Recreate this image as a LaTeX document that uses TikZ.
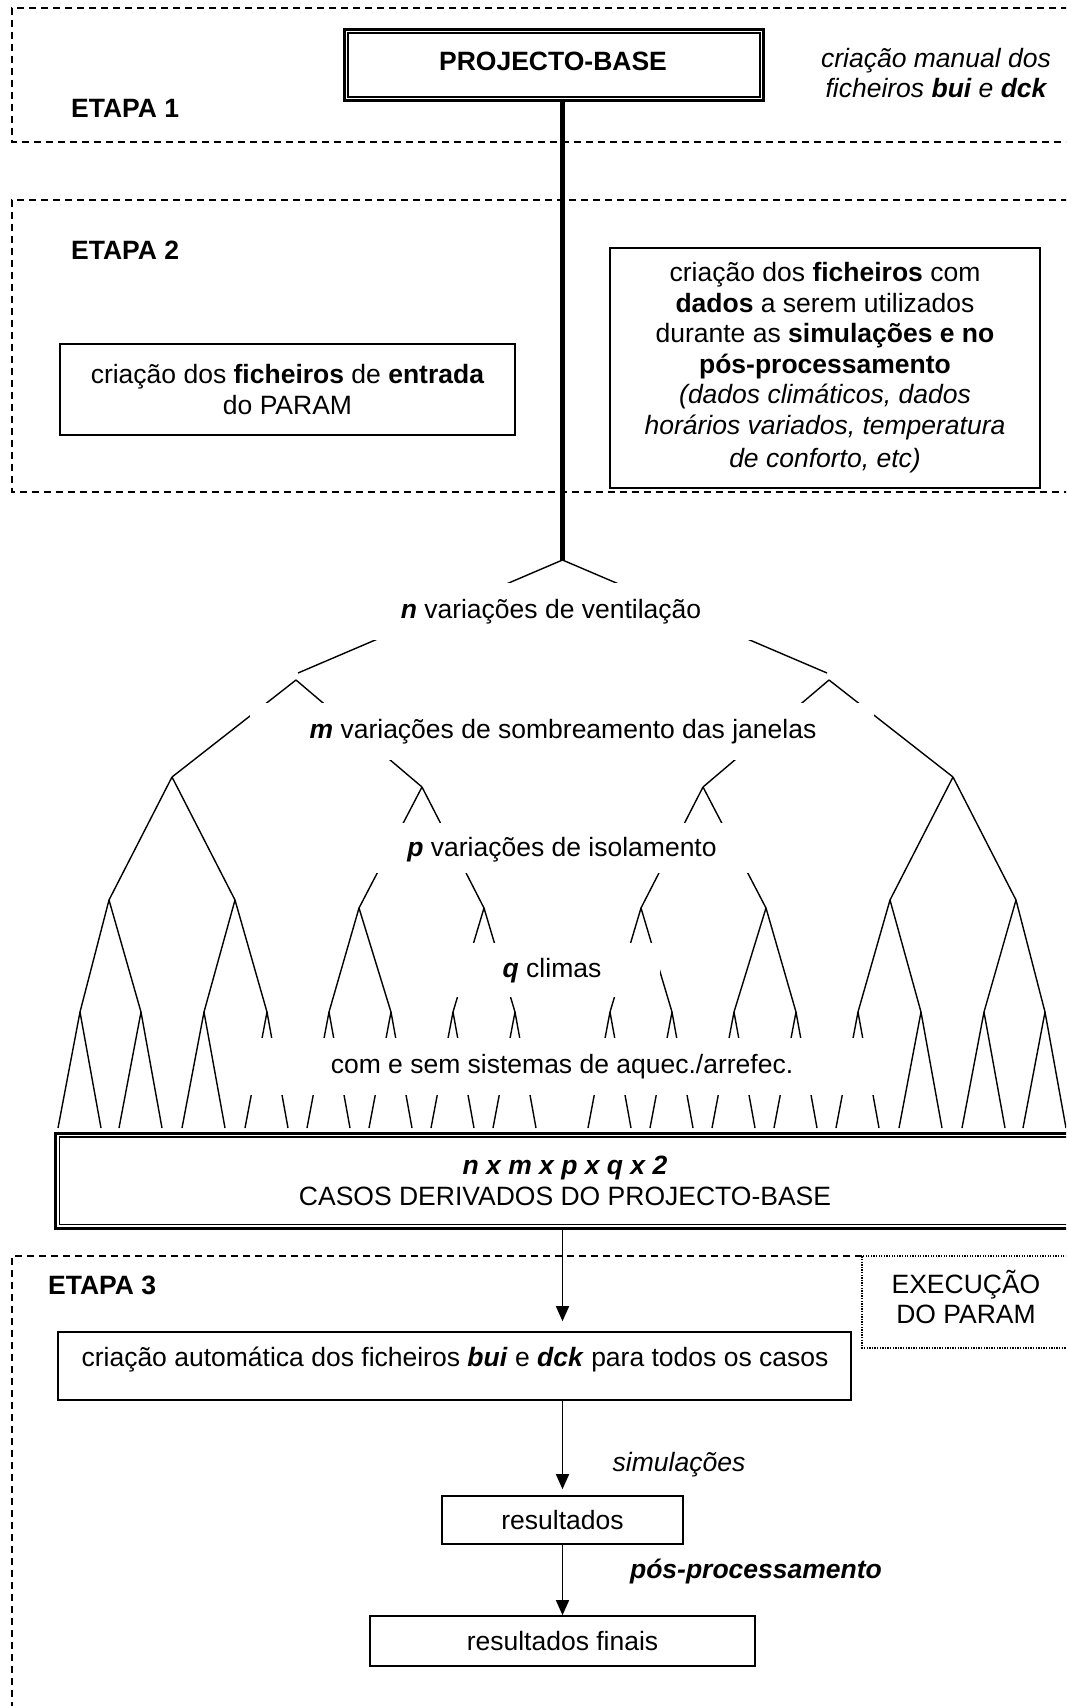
\documentclass[tikz,border=0pt]{standalone}
\usepackage{fontspec}
\setmainfont{Liberation Sans}
\usetikzlibrary{arrows.meta}
\begin{document}
\begin{tikzpicture}[x=1pt,y=-1pt,
  font=\fontsize{26.5}{30.5}\selectfont,
  treeline/.style={line width=1.4pt},
  stageframe/.style={line width=1.3pt, dash pattern=on 7pt off 5pt},
  dotframe/.style={line width=1.3pt, dash pattern=on 1.3pt off 1.3pt},
  plainbox/.style={draw, line width=1.6pt, inner sep=0pt, align=center},
  outerbox/.style={draw, line width=3.2pt, inner sep=0pt},
  lbl/.style={inner sep=0pt, align=center},
  itlbl/.style={lbl, font=\fontsize{26.5}{30.5}\selectfont\itshape},
  arr/.style={line width=1.4pt, -{Triangle[length=15pt,width=13pt]}},
]
\useasboundingbox (0,0) rectangle (1066,1706);
\clip (0,0) rectangle (1066,1706);

% ---------- stage frames ----------
\draw[stageframe] (1080,8) -- (12,8) -- (12,142) -- (1080,142);
\draw[stageframe] (1080,200) -- (12,200) -- (12,492) -- (1080,492);
\draw[stageframe] (862,1256) -- (12,1256) -- (12,1720);
\draw[dotframe] (1080,1256) -- (862,1256) -- (862,1348) -- (1080,1348);

% ---------- stage 1 ----------
\node[outerbox, minimum width=419, minimum height=71] (pb) at (554,65) {};
\draw[line width=1.6pt] ([shift={(5,5)}]pb.north west) rectangle ([shift={(-5,-5)}]pb.south east);
\node[lbl] (pbt) at (553,61) {\bfseries PROJECTO-BASE};
\node[lbl, anchor=west] (e1) at (71,108) {\bfseries ETAPA 1};
\node[itlbl] (man) at (936,73) {criação manual dos\\ficheiros \textbf{bui} e \textbf{dck}};

% ---------- tree coordinates ----------
\coordinate (R) at (562.5,560);
\coordinate (r1a) at (298,673);
\coordinate (r1b) at (827,673);
\coordinate (A) at (296,680);
\coordinate (B) at (829,680);
\coordinate (A1) at (172,777);
\coordinate (A2) at (422,787);
\coordinate (B1) at (703,787);
\coordinate (B2) at (953,777);
\coordinate (C1) at (109,900);
\coordinate (C2) at (235,900);
\coordinate (C3) at (359,908);
\coordinate (C4) at (484,908);
\coordinate (C5) at (641,908);
\coordinate (C6) at (766,908);
\coordinate (C7) at (890,900);
\coordinate (C8) at (1016,900);
\foreach \k/\xx in {1/80,2/141,3/204,4/267,5/329,6/391,7/453,8/515,
                    9/610,10/672,11/734,12/796,13/858,14/921,15/984,16/1045}
  \coordinate (D\k) at (\xx,1012);

% thick stem from the base project
\draw[line width=4.6pt] (R |- pb.south) -- (R);

% ---------- stage 2 ----------
\node[lbl, anchor=west] (e2) at (71,250) {\bfseries ETAPA 2};
\node[plainbox, minimum width=455, minimum height=91] (b2a) at (287.5,389.5)
  {criação dos \textbf{ficheiros} de \textbf{entrada}\\do PARAM};
\node[plainbox, minimum width=430, minimum height=240] (b2b) at (825,368)
  {criação dos \textbf{ficheiros} com\\\textbf{dados} a serem utilizados\\durante as \textbf{simulações e no}\\\textbf{pós-processamento}\\\textit{(dados climáticos, dados}\\\textit{horários variados, temperatura}\\[3pt]\textit{de conforto, etc)}};

% ---------- tree ----------
\foreach \p/\c in {R/r1a, R/r1b, A/A1, A/A2, B/B1, B/B2,
                   A1/C1, A1/C2, A2/C3, A2/C4, B1/C5, B1/C6, B2/C7, B2/C8,
                   C1/D1, C1/D2, C2/D3, C2/D4, C3/D5, C3/D6, C4/D7, C4/D8,
                   C5/D9, C5/D10, C6/D11, C6/D12, C7/D13, C7/D14, C8/D15, C8/D16}
  \draw[treeline] (\p) -- (\c);
\foreach \k in {1,...,16} {
  \draw[treeline] (D\k) -- ([shift={(-22,116)}]D\k);
  \draw[treeline] (D\k) -- ([shift={(21,116)}]D\k);
}

% white bands behind the level labels
\fill[white] (370,583) rectangle (754,640);
\fill[white] (250,703) rectangle (874,760);
\fill[white] (360,823) rectangle (764,873);
\fill[white] (440,943) rectangle (660,997);
\fill[white] (250,1038) rectangle (874,1095);

\node[lbl] (tn) at (551,612) {\textbf{\textit{n}} variações de ventilação};
\node[lbl] (tm) at (563,732) {\textbf{\textit{m}} variações de sombreamento das janelas};
\node[lbl] (tp) at (562,850) {\textbf{\textit{p}} variações de isolamento};
\node[lbl] (tq) at (552,971) {\textbf{\textit{q}} climas};
\node[lbl] (tc) at (562,1067) {com e sem sistemas de aquec./arrefec.};

% ---------- derived cases ----------
\node[outerbox, minimum width=1016.6, minimum height=95] (casos) at (563.7,1180.8) {};
\draw[line width=1.6pt] ([shift={(5.5,5.5)}]casos.north west) rectangle ([shift={(-5.5,-5.5)}]casos.south east);
\node[lbl] (casost) at (565,1181) {\textbf{\textit{n x m x p x q x 2}}\\CASOS DERIVADOS DO PROJECTO-BASE};

% ---------- stage 3 ----------
\node[lbl, anchor=west] (e3) at (48,1285) {\bfseries ETAPA 3};
\node[lbl] (exe) at (966,1297) {EXECUÇÃO\\DO PARAM};
\node[plainbox, minimum width=793, minimum height=68] (auto) at (454.5,1366) {};
\node[lbl] (autot) at (455,1360) {criação automática dos ficheiros \textbf{\textit{bui}} e \textbf{\textit{dck}} para todos os casos};
\node[plainbox, minimum width=241, minimum height=48] (res) at (562.5,1520) {resultados};
\node[plainbox, minimum width=385, minimum height=50] (fin) at (562.5,1641) {resultados finais};
\node[itlbl] (sim) at (679,1465) {simulações};
\node[lbl] (pos) at (756,1572) {\textbf{\textit{pós-processamento}}};

\draw[arr, shorten >=10pt] (R |- casos.south) -- (R |- auto.north);
\draw[arr, shorten >=6pt] (R |- auto.south) -- (R |- res.north);
\draw[arr] (R |- res.south) -- (R |- fin.north);
\end{tikzpicture}
\end{document}
